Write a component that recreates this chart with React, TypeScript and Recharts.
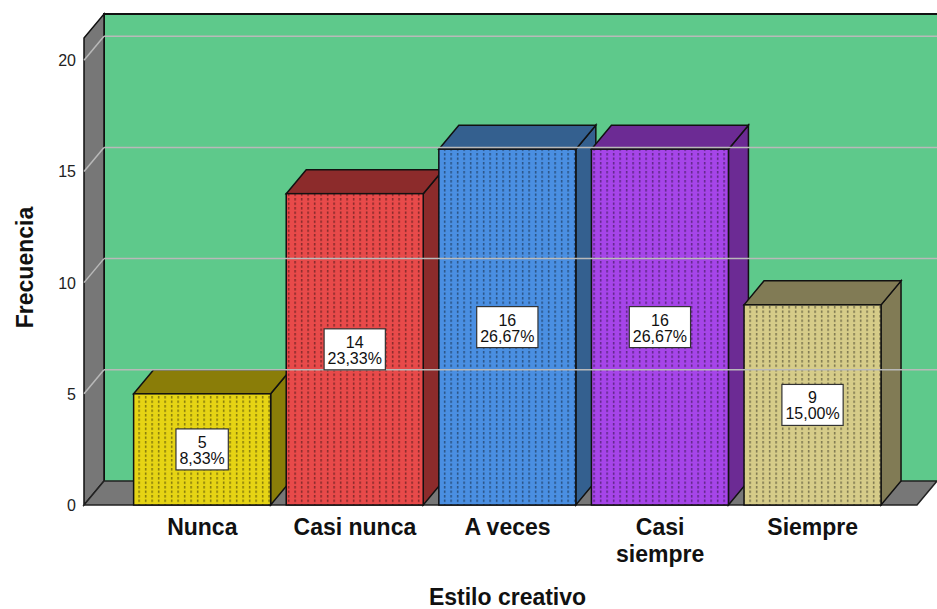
import { BarChart, Bar, XAxis, YAxis, ReferenceArea, ReferenceLine, LabelList, Label } from 'recharts';

const categories = ['Nunca', 'Casi nunca', 'A veces', 'Casi siempre', 'Siempre'];
const counts = [5, 14, 16, 16, 9];
const percents = ['8,33%', '23,33%', '26,67%', '26,67%', '15,00%'];
const yTicks = [0, 5, 10, 15, 20];
const gridTicks = [5, 10, 15, 20];
const frontColors = ['#e6d414', '#e84a4a', '#4a8fe2', '#a645e9', '#d6cc89'];
const sideColors = ['#8a7d08', '#8c2b2b', '#34608f', '#6c2b94', '#817b55'];

const data = categories.map((name, i) => ({ name, value: counts[i], pct: percents[i] }));

const W = 937;
const H = 609;
// depth of the fake 3d
const DX = 20;
const DY = 24;
const FONT = '"Liberation Sans", Arial, sans-serif';

// rough Arial widths at 16px
const textWidth = (s: string) =>
  s.split('').reduce((w, c) => w + (c === ',' ? 4.45 : c === '%' ? 14.2 : 8.9), 0);

const Walls = (p: any) => {
  const left = p.x - 42;
  const right = p.x + p.width + 28;
  const top = p.y;
  const bottom = p.y + p.height;
  return (
    <g>
      <rect x={left + DX} y={top - DY} width={right - left + 10} height={bottom - top} fill="#5ec98b" />
      <polyline
        points={`${left + DX},${bottom - DY} ${left + DX},${top - DY} ${right + DX + 10},${top - DY}`}
        fill="none"
        stroke="#111"
        strokeWidth={2}
      />
      <polygon
        points={`${left},${top} ${left + DX},${top - DY} ${left + DX},${bottom - DY} ${left},${bottom}`}
        fill="#777777"
        stroke="#111"
        strokeWidth={1.5}
      />
      <polygon
        points={`${left},${bottom} ${left + DX},${bottom - DY} ${right + DX},${bottom - DY} ${right},${bottom}`}
        fill="#777777"
        stroke="#222"
        strokeWidth={1.5}
      />
    </g>
  );
};

const GridLine = (p: any) => {
  const left = p.x1 - 42;
  return (
    <g>
      <line x1={left} y1={p.y1} x2={left + DX} y2={p.y1 - DY} stroke="#b9b9b9" strokeWidth={1.5} />
      <line x1={left + DX} y1={p.y1 - DY} x2={W} y2={p.y1 - DY} stroke="#b9b9b9" strokeWidth={1.5} />
    </g>
  );
};

const Bar3D = (p: any) => {
  const { x, y, width, height, index } = p;
  const b = y + height;
  const r = x + width;
  return (
    <g>
      <polygon
        points={`${r},${y} ${r + DX},${y - DY} ${r + DX},${b - DY} ${r},${b}`}
        fill={sideColors[index]}
        stroke="#111"
        strokeWidth={1.5}
      />
      <polygon
        points={`${x},${y} ${x + DX},${y - DY} ${r + DX},${y - DY} ${r},${y}`}
        fill={sideColors[index]}
        stroke="#111"
        strokeWidth={1.5}
      />
      <rect x={x} y={y} width={width} height={height} fill={frontColors[index]} />
      <rect x={x} y={y} width={width} height={height} fill="url(#dots)" />
      <rect x={x} y={y} width={width} height={height} fill="none" stroke="#111" strokeWidth={1.5} />
    </g>
  );
};

const BarLabel = (p: any) => {
  const { x, y, width, height, index } = p;
  const cx = x + width / 2;
  const cy = y + height / 2;
  const top = String(counts[index]);
  const bottom = percents[index];
  const bw = Math.max(textWidth(top), textWidth(bottom)) + 7;
  const bh = 41;
  return (
    <g>
      <rect x={cx - bw / 2} y={cy - bh / 2} width={bw} height={bh} fill="#fff" stroke="#333" strokeWidth={1.2} />
      <text x={cx} y={cy - 1.5} textAnchor="middle" fontFamily={FONT} fontSize={16} fill="#111">
        {top}
      </text>
      <text x={cx} y={cy + 14.5} textAnchor="middle" fontFamily={FONT} fontSize={16} fill="#111">
        {bottom}
      </text>
    </g>
  );
};

const XTick = (p: any) => {
  const label: string = p.payload.value;
  const lines = label.length > 10 ? label.split(' ') : [label];
  return (
    <text textAnchor="middle" fontFamily={FONT} fontSize={23} fontWeight="bold" fill="#111">
      {lines.map((l, i) => (
        <tspan key={i} x={p.x} y={p.y + 22 + i * 27}>
          {l}
        </tspan>
      ))}
    </text>
  );
};

const YTick = (p: any) => (
  <text x={76} y={p.y + 6} textAnchor="end" fontFamily={FONT} fontSize={16} fill="#222">
    {p.payload.value}
  </text>
);

export default function App() {
  return (
    <div style={{ position: 'absolute', left: 0, top: 0, width: W, height: H, background: '#fff' }}>
      <BarChart
        width={W}
        height={H}
        data={data}
        margin={{ top: 38, right: 48, left: 66, bottom: 44 }}
        barCategoryGap="5%"
      >
        <defs>
          <pattern id="dots" patternUnits="userSpaceOnUse" width={6.5} height={4.5}>
            <rect x={2} y={0} width={1.3} height={2.5} fill="rgba(0,0,0,0.5)" />
          </pattern>
        </defs>
        <XAxis
          dataKey="name"
          height={60}
          axisLine={false}
          tickLine={false}
          tick={<XTick />}
          interval={0}
        >
          <Label
            content={(lp: any) => {
              const vb = lp.viewBox || { x: 126, y: 505, width: 763 };
              return (
                <text x={vb.x + vb.width / 2} y={vb.y + 100} textAnchor="middle" fontFamily={FONT} fontSize={23} fontWeight="bold" fill="#111">
                  Estilo creativo
                </text>
              );
            }}
          />
        </XAxis>
        <YAxis
          width={60}
          domain={[0, 21]}
          ticks={yTicks}
          axisLine={false}
          tickLine={false}
          tick={<YTick />}
        >
          <Label
            content={(lp: any) => {
              const vb = lp.viewBox || { y: 38, height: 467 };
              const cy = vb.y + vb.height / 2 - 4;
              return (
                <text x={33} y={cy} transform={`rotate(-90, 33, ${cy})`} textAnchor="middle" fontFamily={FONT} fontSize={23} fontWeight="bold" fill="#111">
                  Frecuencia
                </text>
              );
            }}
          />
        </YAxis>
        <ReferenceArea y1={0} y2={21} shape={<Walls />} />
        {gridTicks.map((t) => (
          <ReferenceLine key={t} y={t} shape={<GridLine />} />
        ))}
        <Bar dataKey="value" isAnimationActive={false} shape={<Bar3D />}>
          <LabelList dataKey="value" content={<BarLabel />} />
        </Bar>
      </BarChart>
    </div>
  );
}
